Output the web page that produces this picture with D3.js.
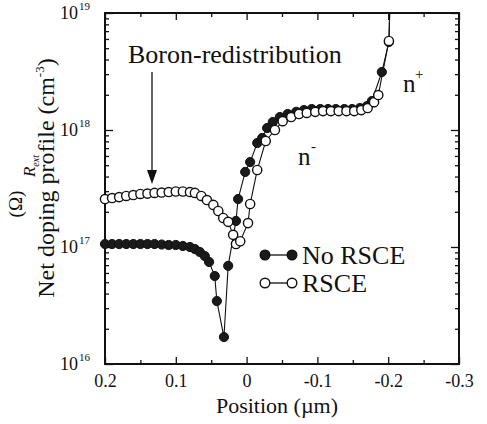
<!DOCTYPE html>
<html>
<head>
<meta charset="utf-8">
<script src="https://cdn.jsdelivr.net/npm/d3@7/dist/d3.min.js"></script>
<style>
  html, body { margin: 0; padding: 0; background: #fff; }
  svg { display: block; }
  svg text { font-family: "Liberation Serif", "Times New Roman", Times, serif !important; fill: #111; }
</style>
</head>
<body>
<svg id="chart" width="487" height="424" font-family="Liberation Serif"></svg>
<script>
// ---------- data ----------
const noRscePos = [0.20,0.19,0.18,0.17,0.16,0.15,0.14,0.13,0.12,0.11,0.10,0.09,0.08,0.073,0.066,0.059,0.053,0.045,0.042,0.032,0.026,0.015,0.012,0.002,-0.005,-0.015,-0.022,-0.029,-0.037,-0.047,-0.058,-0.070,-0.081,-0.092,-0.104,-0.115,-0.126,-0.138,-0.149,-0.160,-0.170,-0.177,-0.191,-0.201,-0.203];
const noRsceVal = [1.06e17,1.06e17,1.06e17,1.06e17,1.06e17,1.06e17,1.06e17,1.06e17,1.05e17,1.04e17,1.04e17,1.02e17,1.0e17,9.6e16,9.06e16,8.37e16,7.45e16,5.65e16,3.45e16,1.70e16,6.9e16,1.67e17,2.57e17,4.38e17,5.32e17,7.74e17,8.55e17,1.04e18,1.17e18,1.29e18,1.37e18,1.43e18,1.48e18,1.51e18,1.51e18,1.51e18,1.51e18,1.51e18,1.51e18,1.54e18,1.60e18,1.77e18,3.13e18,5.65e18,1.6e19];

const rscePos = [0.20,0.19,0.18,0.17,0.16,0.15,0.14,0.13,0.12,0.11,0.10,0.09,0.08,0.073,0.064,0.056,0.047,0.040,0.033,0.026,0.019,0.015,0.009,-0.002,-0.005,-0.015,-0.027,-0.040,-0.051,-0.063,-0.074,-0.085,-0.097,-0.108,-0.119,-0.130,-0.141,-0.152,-0.162,-0.171,-0.180,-0.186,-0.201,-0.203];
const rsceVal = [2.57e17,2.62e17,2.67e17,2.73e17,2.78e17,2.84e17,2.86e17,2.90e17,2.92e17,2.95e17,2.98e17,2.98e17,2.95e17,2.90e17,2.73e17,2.52e17,2.29e17,2.03e17,1.77e17,1.64e17,1.27e17,1.06e17,1.12e17,1.60e17,2.33e17,4.55e17,8.05e17,1.0e18,1.19e18,1.29e18,1.37e18,1.40e18,1.43e18,1.45e18,1.45e18,1.45e18,1.45e18,1.45e18,1.48e18,1.54e18,1.73e18,1.99e18,5.77e18,1.6e19];

const xTickValues = [0.2, 0.1, 0, -0.1, -0.2, -0.3];
const xTickLabels = ["0.2", "0.1", "0", "-0.1", "-0.2", "-0.3"];
const xMinorValues = [0.15, 0.05, -0.05, -0.15, -0.25];
const yTickValues = [1e16, 1e17, 1e18, 1e19];
const yTickExponents = ["16", "17", "18", "19"];
const seriesNames = ["No RSCE", "RSCE"];

// ---------- layout ----------
const svg = d3.select("#chart");
const L = 105, R = 459, T = 13, B = 364;
const ink = "#111";
const serif = "Liberation Serif";

const x = d3.scaleLinear().domain([0.2, -0.3]).range([L, R]);
const y = d3.scaleLog().domain([1e16, 1e19]).range([B, T]);

const yMinor = [];
[1e16, 1e17, 1e18].forEach(d => { for (let k = 2; k <= 9; k++) yMinor.push(d * k); });

function styleAxis(g) {
  g.select(".domain").remove();
  g.attr("font-family", serif);
  g.selectAll(".tick line").attr("stroke", ink).attr("stroke-width", 1.3);
}
function txt(parent, size) {
  return parent.append("text").attr("font-family", serif)
    .style("font-family", serif).style("font-size", size + "px").attr("fill", ink);
}

// ticks (inward) on four sides
svg.append("g").attr("transform", `translate(0,${B})`)
  .call(d3.axisBottom(x).tickValues(xTickValues).tickSize(-7).tickPadding(10)
    .tickFormat((d, i) => xTickLabels[i]))
  .call(styleAxis)
  .call(g => g.selectAll("text").attr("font-family", serif).style("font-size", "18px").attr("fill", ink));
svg.append("g").attr("transform", `translate(0,${B})`)
  .call(d3.axisBottom(x).tickValues(xMinorValues).tickSize(-4).tickFormat("")).call(styleAxis);
svg.append("g").attr("transform", `translate(0,${T})`)
  .call(d3.axisTop(x).tickValues(xTickValues).tickSize(-7).tickFormat("")).call(styleAxis);
svg.append("g").attr("transform", `translate(0,${T})`)
  .call(d3.axisTop(x).tickValues(xMinorValues).tickSize(-4).tickFormat("")).call(styleAxis);
svg.append("g").attr("transform", `translate(${L},0)`)
  .call(d3.axisLeft(y).tickValues(yTickValues).tickSize(-8).tickFormat("")).call(styleAxis);
svg.append("g").attr("transform", `translate(${L},0)`)
  .call(d3.axisLeft(y).tickValues(yMinor).tickSize(-4).tickFormat("")).call(styleAxis);
svg.append("g").attr("transform", `translate(${R},0)`)
  .call(d3.axisRight(y).tickValues(yTickValues).tickSize(-8).tickFormat("")).call(styleAxis);
svg.append("g").attr("transform", `translate(${R},0)`)
  .call(d3.axisRight(y).tickValues(yMinor).tickSize(-4).tickFormat("")).call(styleAxis);

// y tick labels 10^n
const yl = svg.append("g");
yTickValues.forEach((v, i) => {
  txt(yl, 18).attr("x", 78).attr("y", y(v) + 6).attr("text-anchor", "end").text("10");
  txt(yl, 11).attr("x", 79).attr("y", y(v) - 3).text(yTickExponents[i]);
});

// frame
svg.append("rect").attr("x", L).attr("y", T).attr("width", R - L).attr("height", B - T)
  .attr("fill", "none").attr("stroke", ink).attr("stroke-width", 2);

svg.append("defs").append("clipPath").attr("id", "clip")
  .append("rect").attr("x", L - 10).attr("y", T).attr("width", R - L + 10).attr("height", B - T);

const noRsce = noRscePos.map((p, i) => ({ p, v: noRsceVal[i] }));
const rsce = rscePos.map((p, i) => ({ p, v: rsceVal[i] }));
const line = d3.line().x(d => x(d.p)).y(d => y(d.v));

const plot = svg.append("g").attr("clip-path", "url(#clip)");
plot.append("path").datum(noRsce).attr("d", line)
  .attr("fill", "none").attr("stroke", ink).attr("stroke-width", 1.1);
plot.append("path").datum(rsce).attr("d", line)
  .attr("fill", "none").attr("stroke", ink).attr("stroke-width", 1.1);
plot.selectAll("circle.nr").data(noRsce).join("circle").attr("class", "nr")
  .attr("cx", d => x(d.p)).attr("cy", d => y(d.v)).attr("r", 4.6)
  .attr("fill", "#1a1a1a").attr("stroke", ink).attr("stroke-width", 1);
plot.selectAll("circle.r").data(rsce).join("circle").attr("class", "r")
  .attr("cx", d => x(d.p)).attr("cy", d => y(d.v)).attr("r", 4.6)
  .attr("fill", "#fff").attr("stroke", ink).attr("stroke-width", 1.4);

// axis titles
txt(svg, 22).attr("x", 277).attr("y", 413).attr("text-anchor", "middle").text("Position (\u00b5m)");
const yt = txt(svg, 24).attr("transform", "translate(54,178) rotate(-90)").attr("text-anchor", "middle");
yt.append("tspan").text("Net doping profile (cm");
yt.append("tspan").attr("dy", -10).style("font-size", "13px").text("-3");
yt.append("tspan").attr("dy", 10).text(")");

// faint bleed-through label from the facing page
const bt = txt(svg, 17).attr("transform", "translate(35,166) rotate(-90)")
  .attr("text-anchor", "middle").style("font-style", "italic").attr("fill", "#333");
bt.append("tspan").text("R");
bt.append("tspan").attr("dy", 4).style("font-size", "10px").text("ext");
txt(svg, 19).attr("transform", "translate(22,204) rotate(-90)")
  .attr("text-anchor", "middle").attr("fill", "#333").text("(\u03a9)");

// annotations
txt(svg, 26).attr("x", 128).attr("y", 63).text("Boron-redistribution");
svg.append("line").attr("x1", 152).attr("y1", 72).attr("x2", 152).attr("y2", 172)
  .attr("stroke", ink).attr("stroke-width", 1.3);
svg.append("path").attr("d", "M147,170 L157,170 L152,184 Z").attr("fill", ink);

txt(svg, 25).attr("x", 403).attr("y", 92).text("n");
txt(svg, 15).attr("x", 415).attr("y", 79).text("+");
txt(svg, 25).attr("x", 298).attr("y", 165).text("n");
txt(svg, 15).attr("x", 311).attr("y", 151).text("-");

// legend
const leg = svg.append("g");
[[255, true], [283, false]].forEach(([ly, filled], i) => {
  leg.append("line").attr("x1", 265).attr("x2", 292).attr("y1", ly).attr("y2", ly)
    .attr("stroke", ink).attr("stroke-width", 1.3);
  [265, 292].forEach(cx => leg.append("circle").attr("cx", cx).attr("cy", ly).attr("r", 4.8)
    .attr("fill", filled ? "#1a1a1a" : "#fff").attr("stroke", ink).attr("stroke-width", 1.4));
  txt(leg, 26).attr("x", 302).attr("y", ly + 9).text(seriesNames[i]);
});
</script>
</body>
</html>
